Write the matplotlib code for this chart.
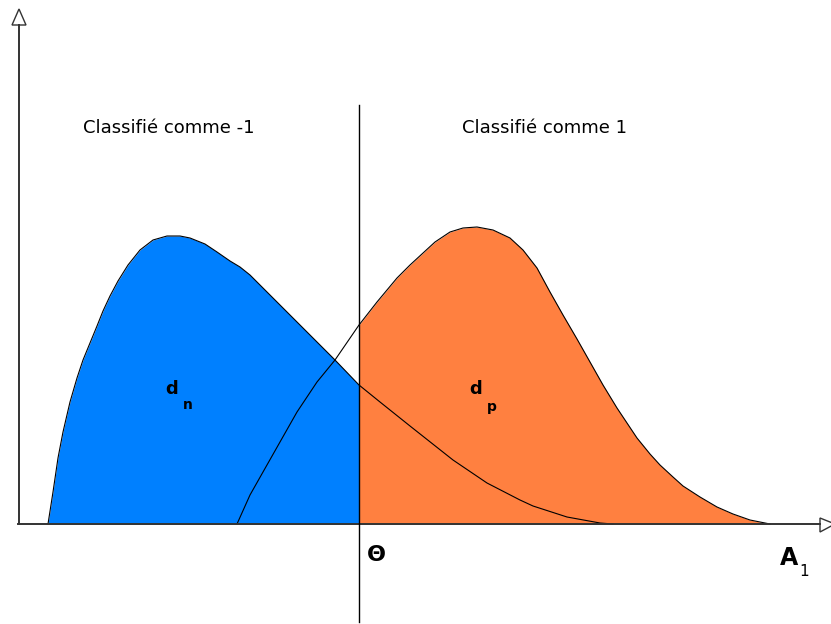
import numpy as np
import matplotlib
matplotlib.use("Agg")
import matplotlib.pyplot as plt
from matplotlib.patches import Polygon

# ---- data (x along A1, y = density height) ----
dn_x = np.array([48, 53, 58, 63, 70, 77, 83, 90, 97, 103, 110, 118, 128, 140, 153, 167,
                 180, 190, 205, 217, 230, 240, 250, 270, 297, 317, 335, 359, 380, 410, 453,
                 487, 520, 533, 567, 600, 613])
dn_y = np.array([0, 32, 66, 92, 122, 146, 164, 181, 198, 213, 228, 243, 259, 274, 284, 288,
                 288, 286, 280, 272, 263, 257, 249, 229, 202, 182, 164, 139, 122, 98, 64,
                 41, 24, 18, 7, 1, 0])

dp_x = np.array([237, 250, 263, 280, 297, 317, 335, 359, 377, 397, 410, 435, 450, 463, 477,
                 493, 510, 523, 537, 550, 563, 577, 590, 603, 617, 637, 650, 660, 673,
                 683, 700, 717, 733, 750, 770])
dp_y = np.array([0, 29, 52, 82, 112, 142, 164, 199, 222, 246, 259, 282, 292, 296, 297,
                 294, 286, 274, 256, 232, 209, 185, 162, 139, 116, 86, 70, 59, 47,
                 38, 27, 17, 10, 4, 0])

theta = 359
labels_top = ["Classifié comme -1", "Classifié comme 1"]

BLUE = "#0080FF"
ORANGE = "#FF8040"

fig = plt.figure(figsize=(8.31, 6.24), dpi=100)
ax = fig.add_axes([0, 0, 1, 1])
ax.set_xlim(0, 831)
ax.set_ylim(-100, 524)
ax.axis("off")

# fills
ax.fill_between(dn_x, 0, dn_y, where=dn_x <= theta, color=BLUE, lw=0)
ax.fill_between(dp_x, 0, dp_y, where=dp_x >= theta, color=ORANGE, lw=0)

# curves
ax.plot(dn_x, dn_y, color="black", lw=0.8, solid_joinstyle="round")
ax.plot(dp_x, dp_y, color="black", lw=0.8, solid_joinstyle="round")

# axes
ax.plot([18.5, 18.5], [0, 499], color="#333333", lw=1.4)
ax.add_patch(Polygon([[19, 515], [12, 499], [26, 499]], closed=True,
                     facecolor="white", edgecolor="#333333", lw=1.0))
ax.plot([18, 820], [0, 0], color="#333333", lw=1.4)
ax.add_patch(Polygon([[835, 0], [820, 6], [820, -8]], closed=True,
                     facecolor="white", edgecolor="#333333", lw=1.0, clip_on=False))

# theta line
ax.plot([theta - 0.5, theta - 0.5], [-98, 419], color="black", lw=1.0)

# texts
ax.text(83, 396, labels_top[0], fontsize=13, family="DejaVu Sans", va="center", ha="left")
ax.text(462, 396, labels_top[1], fontsize=13, family="DejaVu Sans", va="center", ha="left")

ax.text(172, 135, "d", fontsize=13, fontweight="bold", ha="center", va="center")
ax.text(187.5, 119, "n", fontsize=10, fontweight="bold", ha="center", va="center")
ax.text(476, 135, "d", fontsize=13, fontweight="bold", ha="center", va="center")
ax.text(492, 117, "p", fontsize=10, fontweight="bold", ha="center", va="center")

ax.text(376, -31, "Θ", fontsize=16, fontweight="bold", ha="center", va="center")
ax.text(789, -34, "A", fontsize=17, fontweight="bold", ha="center", va="center")
ax.text(804, -47, "1", fontsize=11, ha="center", va="center")

fig.savefig("out.png", dpi=100)
